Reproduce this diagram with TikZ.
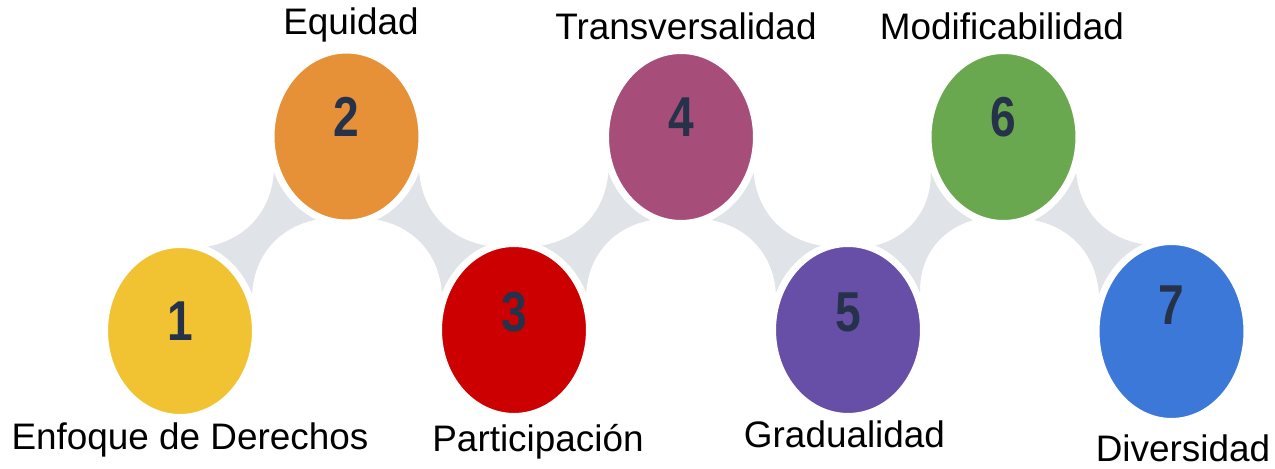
\documentclass[tikz,border=0pt]{standalone}
\usepackage{fontspec}
\setmainfont{Liberation Sans}
\newfontfamily\numfont[FakeStretch=0.82]{Liberation Sans}
\usetikzlibrary{shapes.geometric, backgrounds}

\definecolor{stageyellow}{HTML}{F1C232}
\definecolor{stageorange}{HTML}{E69138}
\definecolor{stagered}{HTML}{CC0000}
\definecolor{stagemagenta}{HTML}{A64D79}
\definecolor{stagepurple}{HTML}{674EA7}
\definecolor{stagegreen}{HTML}{6AA84F}
\definecolor{stageblue}{HTML}{3C78D8}
\definecolor{jointgrey}{HTML}{E0E3E8}
\definecolor{numnavy}{HTML}{26324A}

\tikzset{
    stage/.style={ellipse, draw=white, line width=0.14cm, inner sep=0pt,
        minimum width=3.02cm, minimum height=3.46cm},
    stagenum/.style={font=\numfont\bfseries\fontsize{32}{32}\selectfont,
        text=numnavy, anchor=base, inner sep=0pt},
    stagelabel/.style={font=\fontsize{21}{25}\selectfont, anchor=base, inner sep=0pt},
    joint/.style={fill=jointgrey},
}

\begin{document}
\begin{tikzpicture}
[
    x=0.02cm, y=0.02cm,
]
\useasboundingbox (0,0) rectangle (1275,469);

\node [stage, fill=stageyellow] (c1) at (180,138) {};
\node [stage, fill=stageorange] (c2) at (346.5,332.5) {};
\node [stage, fill=stagered] (c3) at (514,139) {};
\node [stage, fill=stagemagenta] (c4) at (681,332) {};
\node [stage, fill=stagepurple] (c5) at (848,139) {};
\node [stage, fill=stagegreen] (c6) at (1003.5,332) {};
\node [stage, fill=stageblue, minimum height=3.6cm] (c7) at (1171.5,137.5) {};

\node [stagenum] (n1) at ([yshift=-0.2cm]c1.center) {1};
\node [stagenum] (n2) at (c2.center) {2};
\node [stagenum] (n3) at ([yshift=-0.04cm]c3.center) {3};
\node [stagenum] (n4) at (c4.center) {4};
\node [stagenum] (n5) at ([yshift=-0.04cm]c5.center) {5};
\node [stagenum] (n6) at (c6.center) {6};
\node [stagenum] (n7) at ([yshift=0.13cm]c7.center) {7};

\node [stagelabel] (l1) at (190,19) {Enfoque de Derechos};
\node [stagelabel] (l2) at (351,434) {Equidad};
\node [stagelabel] (l3) at (538,17) {Participación};
\node [stagelabel] (l4) at (686,429) {Transversalidad};
\node [stagelabel] (l5) at (844.5,21) {Gradualidad};
\node [stagelabel] (l6) at (1002,429) {Modificabilidad};
\node [stagelabel] (l7) at (1183,7) {Diversidad};

% grey joints behind the circles
\begin{scope}[on background layer]
\fill [joint] (c1.72) to[bend right=38] (c2.206) -- (c2.250) to[bend right=38] (c1.27) -- cycle;
\fill [joint] (c3.108) to[bend left=38] (c2.334) -- (c2.290) to[bend left=38] (c3.153) -- cycle;
\fill [joint] (c3.72) to[bend right=38] (c4.206) -- (c4.250) to[bend right=38] (c3.27) -- cycle;
\fill [joint] (c5.108) to[bend left=38] (c4.334) -- (c4.290) to[bend left=38] (c5.153) -- cycle;
\fill [joint] (c5.72) to[bend right=38] (c6.206) -- (c6.250) to[bend right=38] (c5.27) -- cycle;
\fill [joint] (c7.108) to[bend left=38] (c6.334) -- (c6.290) to[bend left=38] (c7.153) -- cycle;
\end{scope}
\end{tikzpicture}
\end{document}
